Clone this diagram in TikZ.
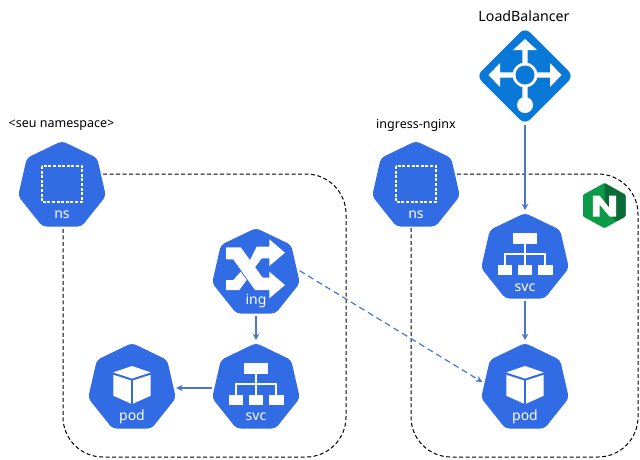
\documentclass[tikz,border=0pt]{standalone}
\usepackage{fontspec}
\setmainfont{Noto Sans}
\usetikzlibrary{shapes.geometric,arrows.meta}
\definecolor{kubeblue}{HTML}{326CE5}
\definecolor{lbblue}{HTML}{0A78D7}
\definecolor{linkblue}{HTML}{4A76CF}
\definecolor{nginxgreen}{HTML}{0A9A48}
\definecolor{nginxdark}{HTML}{0B6B38}
\tikzset{
  kube/.style={regular polygon, regular polygon sides=7, minimum size=90pt, inner sep=0pt, outer sep=2.5pt, fill=kubeblue, rounded corners=4pt},
  kubetext/.style={text=white, font=\fontsize{14}{14}\selectfont, inner sep=0pt},
  toptext/.style={font=\fontsize{12.5}{12.5}\selectfont, inner sep=0pt},
  lb/.style={diamond, aspect=1, minimum size=97pt, inner sep=0pt, outer sep=0pt, fill=lbblue, rounded corners=7pt},
  link/.style={draw=linkblue, line width=1.2pt, -{Stealth[length=6.5pt,width=6.5pt]}},
  nsframe/.style={draw=black, line width=1pt, dash pattern=on 4pt off 2.5pt, rounded corners=40pt},
  nsicon/.pic={
    \draw[white, line width=1.6pt, dash pattern=on 3pt off 1.6pt] (-20,-20) rectangle (20,16);
  },
  podicon/.pic={
    \fill[white] (0,-22) -- (18.7,-15.6) -- (0,-9.5) -- (-18.7,-15.6) -- cycle;
    \fill[white] (-18.7,-13.2) -- (-1.2,-7.6) -- (-1.2,15.6) -- (-18.7,7.7) -- cycle;
    \fill[white] (18.7,-13.2) -- (1.2,-7.6) -- (1.2,15.6) -- (18.7,7.7) -- cycle;
  },
  svcicon/.pic={
    \fill[white] (-12,-25) rectangle (12,-14);
    \draw[white, line width=1.5pt] (0,-14) -- (0,7) (-20,7) -- (-20,-4.2) -- (20,-4.2) -- (20,7);
    \fill[white] (-27.5,6.8) rectangle (-13,17);
    \fill[white] (-7.2,6.8) rectangle (7.2,17);
    \fill[white] (13,6.8) rectangle (27.5,17);
  },
  ingicon/.pic={
    \fill[white] (-30,-25.7) -- (-15.3,-25.7) -- (6.7,4.7) -- (13.3,4.7) -- (13.3,-1.3) -- (29,12) -- (13.3,25.3) -- (13.3,17) -- (-1,17) -- (-22.7,-13.7) -- (-30,-13.7) -- cycle;
    \fill[white] (13.3,-33.7) -- (29,-20.3) -- (13.3,-7) -- (13.3,-14.7) -- (5.7,-14.7) -- (-1,-5.7) -- (-6,-13) -- (0.7,-26.3) -- (13.3,-26.3) -- cycle;
    \fill[white] (-30,7) -- (-22.7,7) -- (-15.3,-1.3) -- (-9.3,7) -- (-16.7,17) -- (-30,17) -- cycle;
  },
  lbicon/.pic={
    \fill[white] (-2.7,-25) -- (-12,-25) -- (0,-36) -- (12,-25) -- (2.7,-25) -- (2.7,-8) -- (8,-2.7) -- (25,-2.7) -- (25,-12) -- (36.5,0) -- (25,12) -- (25,2.7) -- (2.7,2.7) -- (2.7,24) -- (-2.7,24) -- (-2.7,2.7) -- (-25,2.7) -- (-25,12) -- (-36.5,0) -- (-25,-12) -- (-25,-2.7) -- (-2.7,-2.7) -- cycle;
    \fill[white] (0,0) circle (12.5);
    \fill[lbblue] (0,0) circle (9.5);
    \fill[white] (0,30) circle (8);
  },
  nginxicon/.pic={
    \fill[nginxgreen, rounded corners=1pt] (0,-22.5) -- (21,-10.7) -- (21,11) -- (0,22.7) -- (-21.5,11) -- (-21.5,-10.7) -- cycle;
    \fill[nginxdark, rounded corners=1pt] (0,-22.5) -- (21,-10.7) -- (21,11) -- (11.7,16) -- (0,2) -- cycle;
    \fill[white] (-11.7,11) -- (-11.7,-10) -- (-5,-10) -- (4.5,2) -- (4.5,-10) -- (11.7,-10) -- (11.7,11) -- (5,11) -- (-5,-1) -- (-5,11) -- cycle;
  }
}
\begin{document}
\begin{tikzpicture}[x=1pt,y=-1pt]
\useasboundingbox (0,0) rectangle (640,459);
% namespaces
\draw[nsframe] (103,174) -- (346,174) -- (346,457) -- (63,457) -- (63,228);
\draw[nsframe] (457,174) -- (638,174) -- (638,457) -- (411,457) -- (411,228);
\node[kube] (nsa) at (62,186) {};
\node[kube] (nsb) at (416,186) {};
\node[kube] (ing) at (256,273) {};
\node[kube] (poda) at (132,388) {};
\node[kube] (svca) at (256,388) {};
\node[kube] (svcb) at (525,258) {};
\node[kube] (podb) at (525,388) {};
\node[lb] (lb) at (525,76) {};
% icons
\pic at (62,186) {nsicon};
\pic at (416,186) {nsicon};
\pic at (256,273) {ingicon};
\pic at (132,388) {podicon};
\pic at (256,388) {svcicon};
\pic at (525,258) {svcicon};
\pic at (525,388) {podicon};
\pic at (525,75) {lbicon};
\pic at (604.5,205.5) {nginxicon};
% texts
\node[kubetext] (nsatext) at (62,215) {ns};
\node[kubetext] (nsbtext) at (416,215) {ns};
\node[kubetext] (ingtext) at (256,301) {ing};
\node[kubetext] (podatext) at (132,417) {pod};
\node[kubetext] (svcatext) at (256,417) {svc};
\node[kubetext] (svcbtext) at (525,288) {svc};
\node[kubetext] (podbtext) at (525,417) {pod};
\node[toptext] (seu) at (61.5,125.5) {<seu namespace>};
\node[toptext] (ingress) at (416,125) {ingress-nginx};
\node[toptext, font=\fontsize{14.2}{14.2}\selectfont] (lbtext) at (524,16) {LoadBalancer};
% links
\draw[link] (ing) -- (svca);
\draw[link] (svca) -- (poda);
\draw[link] (lb) -- (svcb);
\draw[link] (svcb) -- (podb);
\draw[link, dash pattern=on 6pt off 4pt] (ing.3) -- (podb.172);
\end{tikzpicture}
\end{document}
